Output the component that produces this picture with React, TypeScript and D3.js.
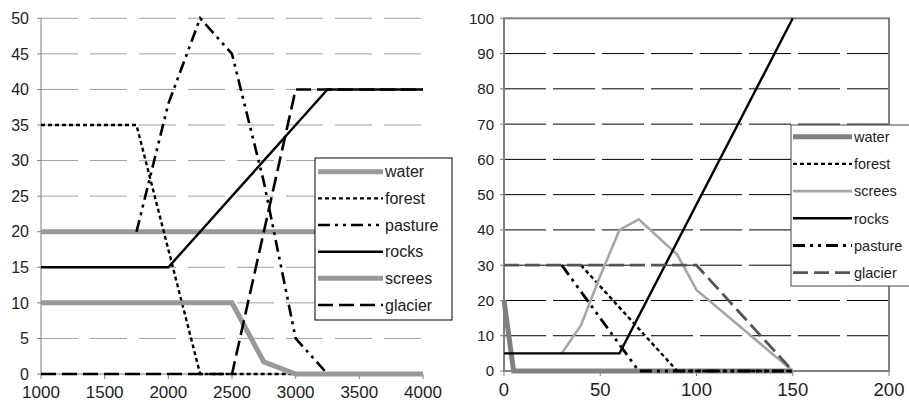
import React from "react";
import * as d3 from "d3";

// ---------- Left chart data ----------
const leftX = [1000, 1250, 1500, 1750, 2000, 2250, 2500, 2750, 3000, 3250, 3500, 3750, 4000];
const leftWater = [20, 20, 20, 20, 20, 20, 20, 20, 20, 20, 20, 20, 20];
const leftForest = [35, 35, 35, 35, 17.5, 0, 0, 0, 0, 0, 0, 0, 0];
const leftPasture: (number | null)[] = [null, null, null, 20, 38, 50, 45, 27, 5, 0, 0, 0, 0];
const leftRocks = [15, 15, 15, 15, 15, 20, 25, 30, 35, 40, 40, 40, 40];
const leftScrees = [10, 10, 10, 10, 10, 10, 10, 1.7, 0, 0, 0, 0, 0];
const leftGlacier = [0, 0, 0, 0, 0, 0, 0, 20, 40, 40, 40, 40, 40];
const leftXTicks = [1000, 1500, 2000, 2500, 3000, 3500, 4000];
const leftYTicks = [0, 5, 10, 15, 20, 25, 30, 35, 40, 45, 50];
const leftNames = ["water", "forest", " pasture", "rocks", "screes", "glacier"];

// ---------- Right chart data ----------
const rWaterX = [0, 5, 150];
const rWaterY = [20, 0, 0];
const rForestX = [40, 90, 150];
const rForestY = [30, 0, 0];
const rScreesX = [30, 40, 50, 60, 70, 80, 90, 100, 150];
const rScreesY = [5, 13, 27, 40, 43, 38, 33, 23, 0];
const rRocksX = [0, 60, 150];
const rRocksY = [5, 5, 100];
const rPastureX = [30, 70, 150];
const rPastureY = [30, 0, 0];
const rGlacierX = [0, 100, 150];
const rGlacierY = [30, 30, 0];
const rightXTicks = [0, 50, 100, 150, 200];
const rightYTicks = [0, 10, 20, 30, 40, 50, 60, 70, 80, 90, 100];
const rightNames = ["water", "forest", "screes", "rocks", " pasture", "glacier"];

type Style = { stroke: string; width: number; dash?: string };

const FONT = "'Liberation Sans', Arial, sans-serif";

const leftStyles: Style[] = [
  { stroke: "#999999", width: 5 },
  { stroke: "#000", width: 2.4, dash: "4,3" },
  { stroke: "#000", width: 2.6, dash: "12,5,3,5,3,5" },
  { stroke: "#000", width: 2.4 },
  { stroke: "#999999", width: 5 },
  { stroke: "#000", width: 2.6, dash: "15,6" },
];

const rightStyles: Style[] = [
  { stroke: "#808080", width: 5 },
  { stroke: "#000", width: 2.4, dash: "4,3" },
  { stroke: "#a6a6a6", width: 2.6 },
  { stroke: "#000", width: 2.4 },
  { stroke: "#000", width: 2.8, dash: "12,5,3,5,3,5" },
  { stroke: "#555555", width: 2.8, dash: "15,6" },
];

function LeftChart() {
  const x = d3.scaleLinear().domain([1000, 4000]).range([41, 423]);
  const y = d3.scaleLinear().domain([0, 50]).range([374, 18.3]);
  const series = [leftWater, leftForest, leftPasture, leftRocks, leftScrees, leftGlacier];
  const line = d3
    .line<[number, number | null]>()
    .defined((d) => d[1] !== null)
    .x((d) => x(d[0]))
    .y((d) => y(d[1] as number));
  const legY = d3.scaleLinear().domain([0, 5]).range([171.7, 305]);
  return (
    <g>
      {leftYTicks.filter((t) => t > 0).map((t) => (
        <line key={"g" + t} x1={x(1000)} x2={x(4000)} y1={y(t)} y2={y(t)}
          stroke="#a0a0a0" strokeWidth={1} strokeDasharray="37,12" />
      ))}
      <line x1={x(1000)} x2={x(1000)} y1={y(0)} y2={y(50)} stroke="#808080" strokeWidth={1} />
      <line x1={x(1000)} x2={x(4000)} y1={y(0)} y2={y(0)} stroke="#808080" strokeWidth={1} />
      {leftYTicks.map((t) => (
        <g key={"yt" + t}>
          <line x1={x(1000) - 4} x2={x(1000)} y1={y(t)} y2={y(t)} stroke="#808080" />
          <text x={29} y={y(t)} dy="0.36em" textAnchor="end" fontSize={16} fontFamily={FONT} fill="#222">{t}</text>
        </g>
      ))}
      {leftXTicks.map((t) => (
        <g key={"xt" + t}>
          <line x1={x(t)} x2={x(t)} y1={y(0)} y2={y(0) + 5} stroke="#808080" />
          <text x={x(t)} y={398} textAnchor="middle" fontSize={17} fontFamily={FONT} fill="#222">{t}</text>
        </g>
      ))}
      {series.map((s, i) => (
        <path key={"s" + i}
          d={line(leftX.map((v, j) => [v, s[j]] as [number, number | null])) || ""}
          fill="none" stroke={leftStyles[i].stroke} strokeWidth={leftStyles[i].width}
          strokeDasharray={leftStyles[i].dash} />
      ))}
      <rect x={315} y={158} width={137} height={162} fill="#fff" stroke="#000" strokeWidth={1} />
      {leftNames.map((n, i) => (
        <g key={"lg" + i}>
          <line x1={318} x2={383} y1={legY(i)} y2={legY(i)} stroke={leftStyles[i].stroke}
            strokeWidth={leftStyles[i].width} strokeDasharray={leftStyles[i].dash} />
          <text x={385} y={legY(i)} dy="0.36em" fontSize={16} fontFamily={FONT} fill="#222">{n}</text>
        </g>
      ))}
    </g>
  );
}

function RightChart() {
  const x = d3.scaleLinear().domain([0, 200]).range([504, 889]);
  const y = d3.scaleLinear().domain([0, 100]).range([371, 18.3]);
  const series: [number[], number[]][] = [
    [rWaterX, rWaterY],
    [rForestX, rForestY],
    [rScreesX, rScreesY],
    [rRocksX, rRocksY],
    [rPastureX, rPastureY],
    [rGlacierX, rGlacierY],
  ];
  const line = d3
    .line<[number, number]>()
    .x((d) => x(d[0]))
    .y((d) => y(d[1]));
  const legY = d3.scaleLinear().domain([0, 5]).range([136.7, 272.7]);
  return (
    <g>
      {rightYTicks.filter((t) => t > 0 && t < 100).map((t) => (
        <line key={"g" + t} x1={x(0)} x2={x(200)} y1={y(t)} y2={y(t)}
          stroke="#000" strokeWidth={1} strokeDasharray="42,7" />
      ))}
      <rect x={x(0)} y={y(100)} width={x(200) - x(0)} height={y(0) - y(100)}
        fill="none" stroke="#808080" strokeWidth={2} />
      {rightYTicks.map((t) => (
        <g key={"yt" + t}>
          <line x1={x(0) - 4} x2={x(0)} y1={y(t)} y2={y(t)} stroke="#808080" />
          <text x={494} y={y(t)} dy="0.36em" textAnchor="end" fontSize={15} fontFamily={FONT} fill="#222">{t}</text>
        </g>
      ))}
      {rightXTicks.map((t) => (
        <g key={"xt" + t}>
          <line x1={x(t)} x2={x(t)} y1={y(0)} y2={y(0) + 5} stroke="#808080" />
          <text x={x(t)} y={396} textAnchor="middle" fontSize={18.5} fontFamily={FONT} fill="#222">{t}</text>
        </g>
      ))}
      {series.map(([xs, ys], i) => (
        <path key={"s" + i}
          d={line(xs.map((v, j) => [v, ys[j]] as [number, number])) || ""}
          fill="none" stroke={rightStyles[i].stroke} strokeWidth={rightStyles[i].width}
          strokeDasharray={rightStyles[i].dash} />
      ))}
      <rect x={791} y={125} width={130} height={161} fill="#fff" stroke="#444" strokeWidth={1} />
      {rightNames.map((n, i) => (
        <g key={"lg" + i}>
          <line x1={793} x2={852} y1={legY(i)} y2={legY(i)} stroke={rightStyles[i].stroke}
            strokeWidth={rightStyles[i].width} strokeDasharray={rightStyles[i].dash} />
          <text x={854} y={legY(i)} dy="0.36em" fontSize={14.5} fontFamily={FONT} fill="#222">{n}</text>
        </g>
      ))}
    </g>
  );
}

export default function App() {
  return (
    <svg width={909} height={403} style={{ position: "absolute", left: 0, top: 0, background: "#fff" }}>
      <rect x={0} y={0} width={909} height={403} fill="#fff" />
      <LeftChart />
      <RightChart />
    </svg>
  );
}
